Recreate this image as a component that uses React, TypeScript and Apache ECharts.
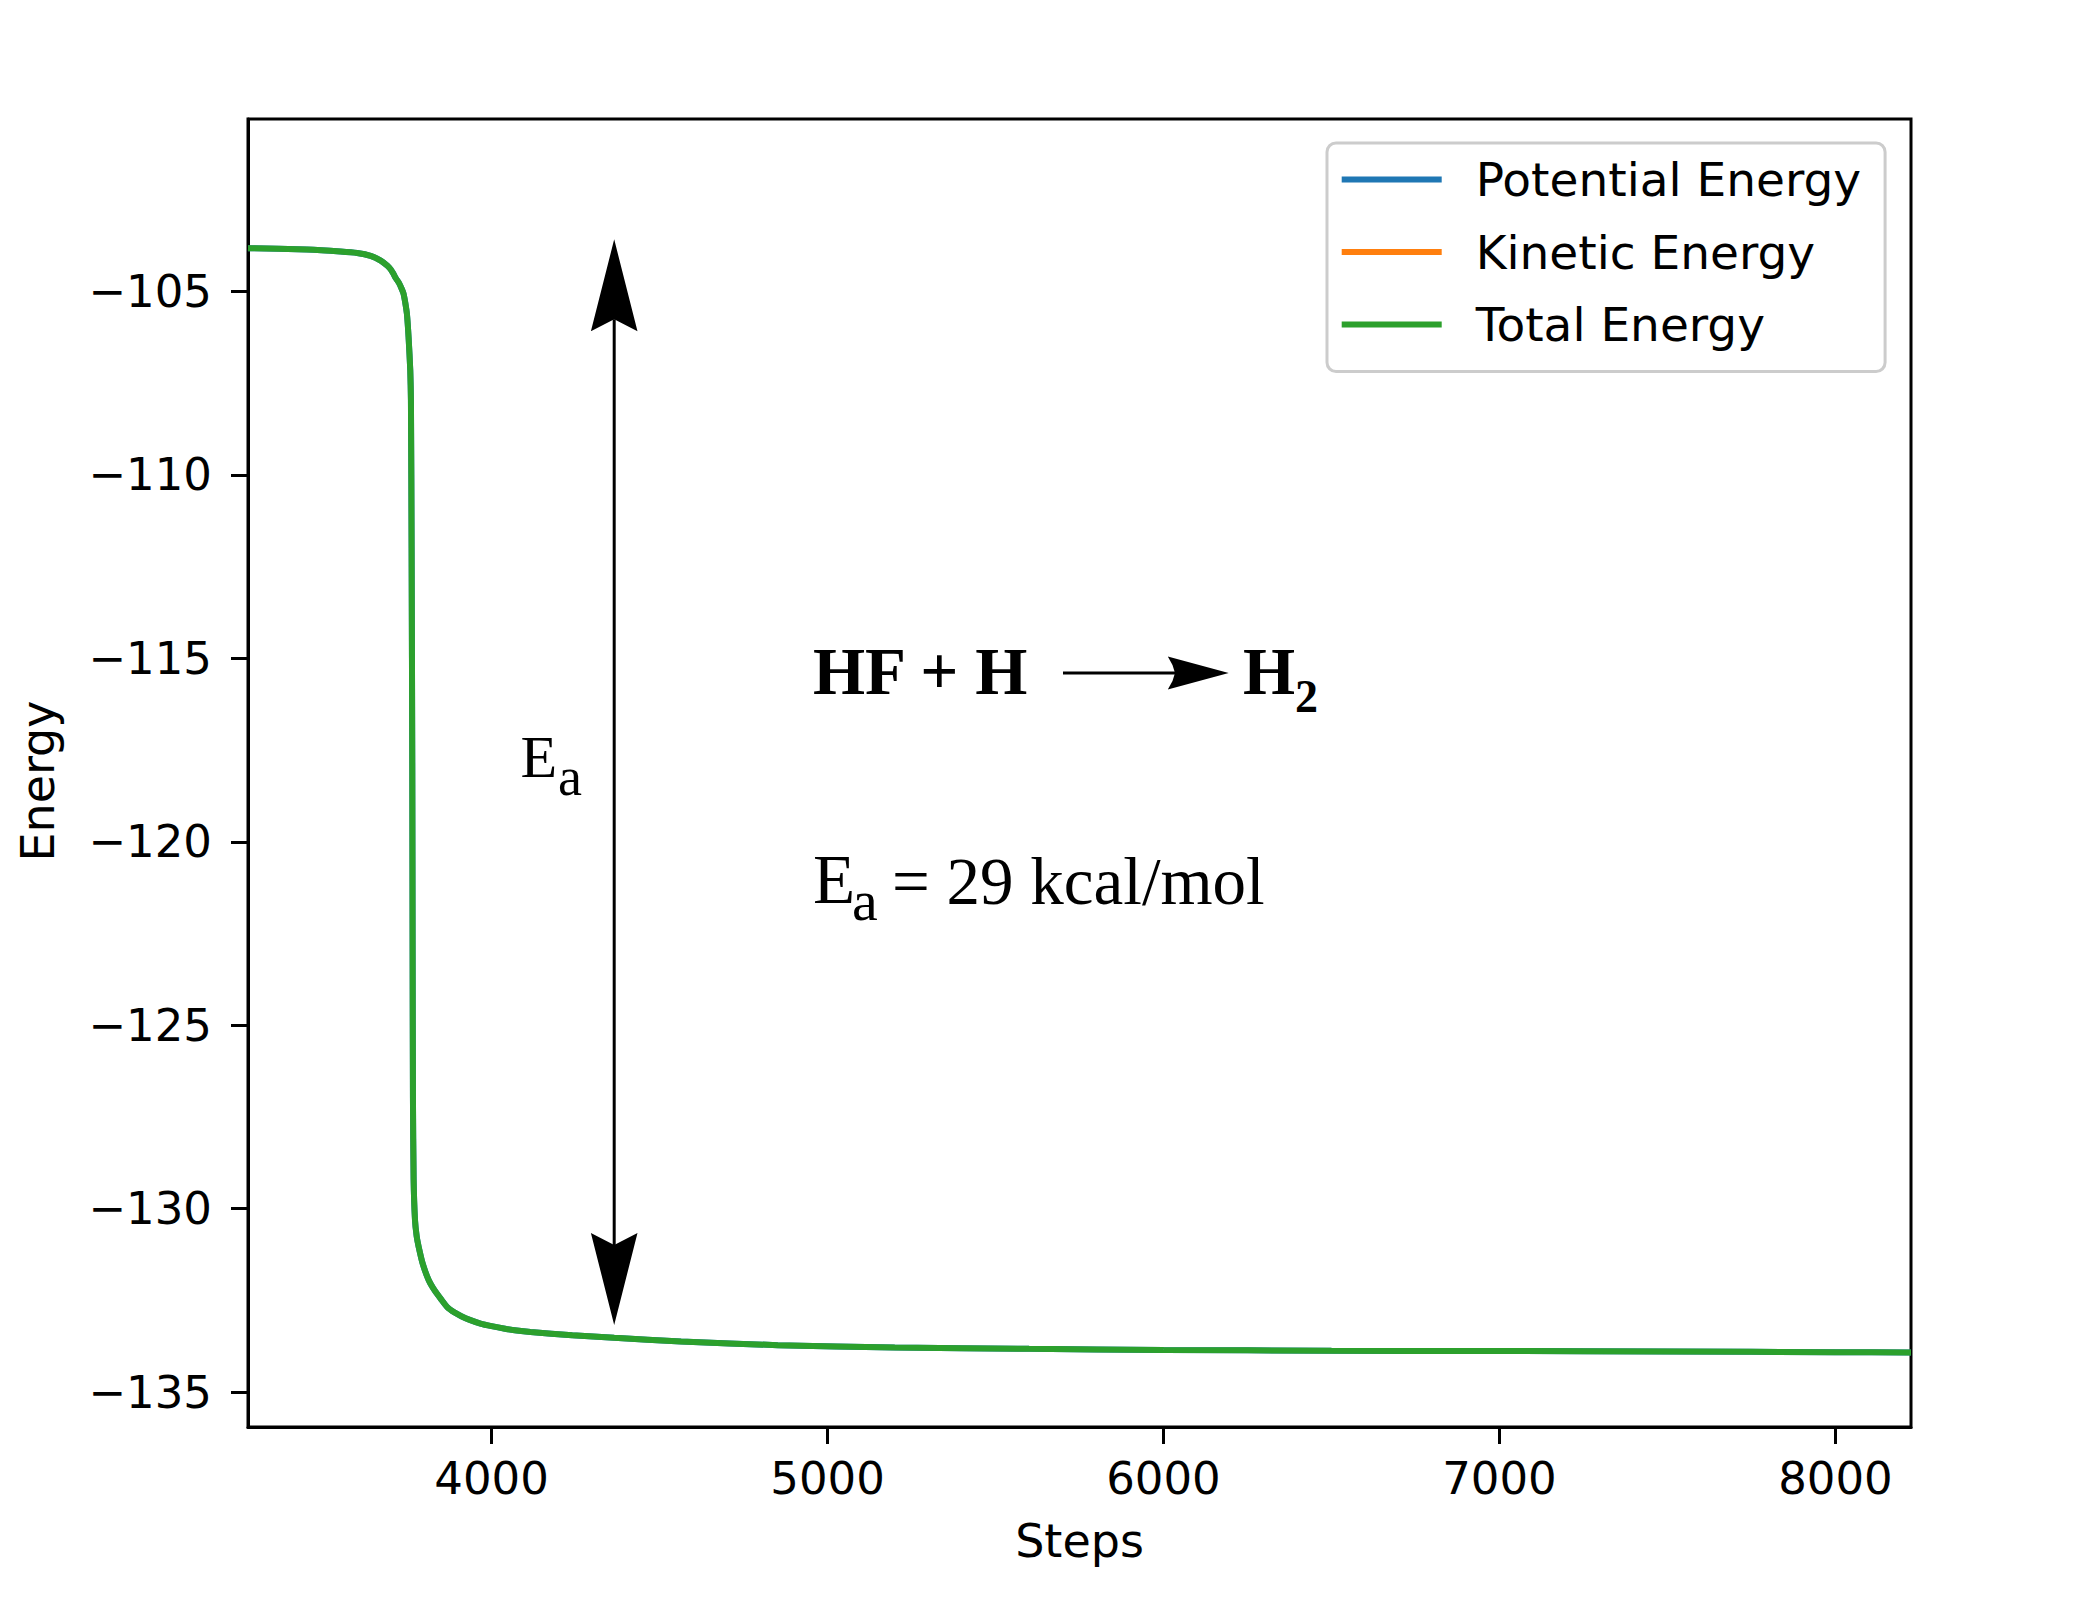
import React, { useEffect, useRef } from "react";
import * as echarts from "echarts";

// ---- data ----
const steps = [
  3275, 3450, 3550, 3600, 3640, 3670, 3690, 3700, 3708, 3715, 3725, 3732, 3738, 3743,
  3748, 3753, 3758, 3760, 3762, 3764, 3765, 3766, 3768, 3772, 3777, 3783, 3795, 3813,
  3830, 3850, 3868, 3890, 3910, 3935, 3967, 4000, 4040, 4075, 4116, 4240, 4365, 4564,
  4852, 5200, 5600, 6000, 6500, 7000, 7500, 8000, 8225,
];
const totalEnergy = [
  -103.82, -103.86, -103.91, -103.95, -104.03, -104.16, -104.3, -104.4, -104.52, -104.64,
  -104.78, -104.92, -105.06, -105.3, -105.61, -106.25, -107.15, -107.97, -112.0, -118.0,
  -123.0, -127.0, -129.2, -130.3, -130.75, -131.04, -131.5, -131.95, -132.22, -132.47,
  -132.68, -132.83, -132.93, -133.03, -133.13, -133.2, -133.27, -133.32, -133.36, -133.45,
  -133.52, -133.62, -133.72, -133.78, -133.82, -133.85, -133.87, -133.88, -133.89, -133.91,
  -133.92,
];
// potential energy lies under the total energy curve in the picture
const potentialEnergy = [
  -103.82, -103.86, -103.91, -103.95, -104.03, -104.16, -104.3, -104.4, -104.52, -104.64,
  -104.78, -104.92, -105.06, -105.3, -105.61, -106.25, -107.15, -107.97, -112.0, -118.0,
  -123.0, -127.0, -129.2, -130.3, -130.75, -131.04, -131.5, -131.95, -132.22, -132.47,
  -132.68, -132.83, -132.93, -133.03, -133.13, -133.2, -133.27, -133.32, -133.36, -133.45,
  -133.52, -133.62, -133.72, -133.78, -133.82, -133.85, -133.87, -133.88, -133.89, -133.91,
  -133.92,
];
// kinetic energy is not visible inside the plotted range
const kineticEnergy: number[] = [];

const seriesNames = ["Potential Energy", "Kinetic Energy", "Total Energy"];
const seriesColors = ["#1f77b4", "#ff7f0e", "#2ca02c"];

const xTicks = [4000, 5000, 6000, 7000, 8000];
const yTicks = [-135, -130, -125, -120, -115, -110, -105];
const xRange = [3275, 8225];
const yRange = [-135.95, -100.3];

// activation-energy double arrow: [step, top energy, bottom energy]
const eaArrow = [[4365, -103.58, -133.17]];

const pairs = (xs: number[], ys: number[]) => ys.map((y, i) => [xs[i], y]);
const minus = (v: number) => (v < 0 ? "\u2212" + Math.abs(v) : String(v));

export default function App() {
  const ref = useRef<HTMLDivElement>(null);

  useEffect(() => {
    if (!ref.current) return;
    const chart = echarts.init(ref.current, undefined, { renderer: "svg" });
    const serif = '"Liberation Serif", "Times New Roman", serif';
    const sans = '"DejaVu Sans", sans-serif';

    const lineSeries = (i: number, values: number[]) => ({
      name: seriesNames[i],
      type: "line",
      data: pairs(steps, values),
      showSymbol: false,
      symbol: "none",
      smooth: 0.2,
      color: seriesColors[i],
      lineStyle: { width: 6, color: seriesColors[i] },
      silent: true,
    });

    const option: any = {
      animation: false,
      backgroundColor: "#ffffff",
      grid: {
        left: 248,
        top: 119,
        width: 1663,
        height: 1308,
        show: true,
        borderColor: "#000",
        borderWidth: 3,
        backgroundColor: "transparent",
        containLabel: false,
        outerBoundsMode: "none",
      },
      xAxis: {
        type: "value",
        min: xRange[0],
        max: xRange[1],
        name: "Steps",
        nameLocation: "middle",
        nameGap: 91,
        nameTextStyle: { fontSize: 46, fontFamily: sans, color: "#000" },
        axisLine: { show: true, lineStyle: { color: "#000", width: 3 } },
        axisTick: {
          show: true,
          inside: false,
          length: 17,
          customValues: xTicks,
          lineStyle: { color: "#000", width: 3 },
        },
        axisLabel: {
          customValues: xTicks,
          fontSize: 45,
          fontFamily: sans,
          color: "#000",
          margin: 29,
          formatter: (v: number) => String(v),
        },
        splitLine: { show: false },
      },
      yAxis: {
        type: "value",
        min: yRange[0],
        max: yRange[1],
        name: "Energy",
        nameLocation: "middle",
        nameGap: 187,
        nameTextStyle: {
          fontSize: 46,
          fontFamily: sans,
          color: "#000",
          padding: [0, 16, 0, 0],
        },
        axisLine: { show: true, lineStyle: { color: "#000", width: 3 } },
        axisTick: {
          show: true,
          inside: false,
          length: 17,
          customValues: yTicks,
          lineStyle: { color: "#000", width: 3 },
        },
        axisLabel: {
          customValues: yTicks,
          fontSize: 45,
          fontFamily: sans,
          color: "#000",
          margin: 36,
          formatter: (v: number) => minus(v),
        },
        splitLine: { show: false },
      },
      legend: {
        data: seriesNames,
        orient: "vertical",
        left: 1327,
        top: 143,
        padding: [13, 24, 23.5, 14.7],
        itemGap: 25.5,
        itemWidth: 100,
        itemHeight: 6,
        icon: "rect",
        backgroundColor: "rgba(255,255,255,0.8)",
        borderColor: "#cccccc",
        borderWidth: 3,
        borderRadius: 9,
        selectedMode: false,
        textStyle: {
          fontSize: 47,
          lineHeight: 46,
          fontFamily: sans,
          color: "#000",
          padding: [0, 0, 0, 29],
        },
      },
      series: [
        lineSeries(0, potentialEnergy),
        lineSeries(1, kineticEnergy),
        lineSeries(2, totalEnergy),
        {
          name: "Ea arrow",
          type: "custom",
          data: eaArrow,
          silent: true,
          clip: false,
          encode: { x: 0, y: [1, 2] },
          renderItem: (params: any, api: any) => {
            const x = api.value(0);
            const top = api.coord([x, api.value(1)]);
            const bot = api.coord([x, api.value(2)]);
            const L = 92;
            const W = 23.3;
            const N = 12;
            return {
              type: "group",
              children: [
                {
                  type: "line",
                  shape: { x1: top[0], y1: top[1] + L - N, x2: bot[0], y2: bot[1] - L + N },
                  style: { stroke: "#000", lineWidth: 3 },
                },
                {
                  type: "polygon",
                  shape: {
                    points: [
                      [top[0], top[1]],
                      [top[0] + W, top[1] + L],
                      [top[0], top[1] + L - N],
                      [top[0] - W, top[1] + L],
                    ],
                  },
                  style: { fill: "#000" },
                },
                {
                  type: "polygon",
                  shape: {
                    points: [
                      [bot[0], bot[1]],
                      [bot[0] + W, bot[1] - L],
                      [bot[0], bot[1] - L + N],
                      [bot[0] - W, bot[1] - L],
                    ],
                  },
                  style: { fill: "#000" },
                },
              ],
            };
          },
        },
      ],
      graphic: [
        // reaction arrow
        {
          type: "line",
          silent: true,
          shape: { x1: 1063, y1: 673, x2: 1178, y2: 673 },
          style: { stroke: "#000", lineWidth: 3 },
        },
        {
          type: "polygon",
          silent: true,
          shape: {
            points: [
              [1228.7, 673],
              [1167.8, 656.5],
              [1172.5, 665],
              [1175, 673],
              [1172.5, 681],
              [1167.8, 689.5],
            ],
          },
          style: { fill: "#000" },
        },
        // "HF + H"
        {
          type: "text",
          silent: true,
          x: 813,
          y: 671.4,
          style: {
            text: "HF + H",
            fontSize: 67,
            fontWeight: "bold",
            fontFamily: serif,
            fill: "#000",
            align: "left",
            verticalAlign: "middle",
          },
        },
        {
          type: "text",
          silent: true,
          x: 1243,
          y: 671.4,
          style: {
            text: "H",
            fontSize: 67,
            fontWeight: "bold",
            fontFamily: serif,
            fill: "#000",
            align: "left",
            verticalAlign: "middle",
          },
        },
        {
          type: "text",
          silent: true,
          x: 1295,
          y: 696,
          style: {
            text: "2",
            fontSize: 46,
            fontWeight: "bold",
            fontFamily: serif,
            fill: "#000",
            align: "left",
            verticalAlign: "middle",
          },
        },
        // E_a label next to arrow
        {
          type: "text",
          silent: true,
          x: 520.5,
          y: 756.5,
          style: {
            text: "E",
            fontSize: 60,
            fontFamily: serif,
            fill: "#000",
            align: "left",
            verticalAlign: "middle",
          },
        },
        {
          type: "text",
          silent: true,
          x: 558,
          y: 776.8,
          style: {
            text: "a",
            fontSize: 54,
            fontFamily: serif,
            fill: "#000",
            align: "left",
            verticalAlign: "middle",
          },
        },
        // E_a = 29 kcal/mol
        {
          type: "text",
          silent: true,
          x: 813,
          y: 880,
          style: {
            text: "E",
            fontSize: 69,
            fontFamily: serif,
            fill: "#000",
            align: "left",
            verticalAlign: "middle",
          },
        },
        {
          type: "text",
          silent: true,
          x: 852,
          y: 900,
          style: {
            text: "a",
            fontSize: 58,
            fontFamily: serif,
            fill: "#000",
            align: "left",
            verticalAlign: "middle",
          },
        },
        {
          type: "text",
          silent: true,
          x: 892,
          y: 880.7,
          style: {
            text: "= 29 kcal/mol",
            fontSize: 67,
            fontFamily: serif,
            fill: "#000",
            align: "left",
            verticalAlign: "middle",
          },
        },
      ],
    };

    chart.setOption(option);
    return () => {
      chart.dispose();
    };
  }, []);

  return (
    <div
      ref={ref}
      style={{
        position: "fixed",
        left: 0,
        top: 0,
        width: "2080px",
        height: "1598px",
        background: "#ffffff",
      }}
    />
  );
}
